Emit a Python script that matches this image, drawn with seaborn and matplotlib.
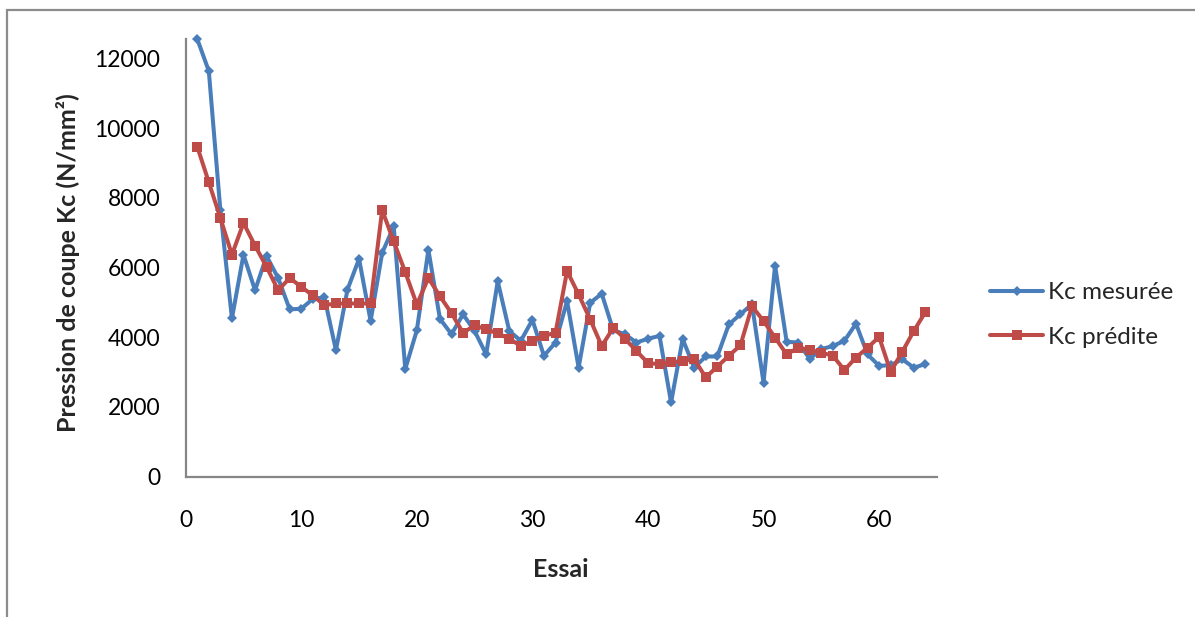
import matplotlib
matplotlib.use("Agg")
import matplotlib.pyplot as plt
import matplotlib.patches as mpatches
import numpy as np
import pandas as pd
import seaborn as sns

# Trial numbers and cutting pressure values (N/mm²)
essai = list(range(1, 65))
kc_mesuree = [
    12560, 11640, 7640, 4540, 6370, 5350, 6330, 5700, 4800, 4820,
    5100, 5150, 3630, 5370, 6250, 4470, 6420, 7180, 3090, 4200,
    6510, 4530, 4090, 4660, 4180, 3510, 5610, 4180, 3900, 4500,
    3470, 3850, 5040, 3130, 4990, 5250, 4200, 4090, 3850, 3960,
    4040, 2130, 3950, 3130, 3450, 3450, 4370, 4660, 4950, 2700,
    6060, 3870, 3850, 3380, 3660, 3750, 3900, 4390, 3510, 3180,
    3200, 3370, 3130, 3230,
]
kc_predite = [
    9470, 8450, 7420, 6370, 7280, 6630, 6020, 5350, 5700, 5450,
    5200, 4920, 4970, 4970, 4970, 4970, 7650, 6750, 5870, 4940,
    5700, 5180, 4690, 4130, 4340, 4230, 4110, 3960, 3750, 3900,
    4040, 4130, 5900, 5230, 4510, 3750, 4270, 3960, 3610, 3260,
    3230, 3280, 3320, 3370, 2850, 3160, 3470, 3770, 4890, 4470,
    3990, 3510, 3700, 3640, 3560, 3470, 3060, 3420, 3700, 4010,
    3010, 3580, 4180, 4720,
]
series_names = ["Kc mesurée", "Kc prédite"]
x_ticks = [0, 10, 20, 30, 40, 50, 60]
y_ticks = [0, 2000, 4000, 6000, 8000, 10000, 12000]

df = pd.DataFrame({
    "Essai": essai * 2,
    "Kc": kc_mesuree + kc_predite,
    "Série": [series_names[0]] * len(essai) + [series_names[1]] * len(essai),
})

sns.set_theme(style="white")
plt.rcParams["font.family"] = ["Lato", "DejaVu Sans"]

palette = {series_names[0]: "#4A7EBB", series_names[1]: "#BE4B48"}
markers = {series_names[0]: "D", series_names[1]: "s"}
marker_sizes = [5.0, 6.5]

fig = plt.figure(figsize=(11.95, 6.17), dpi=100)
ax = fig.add_axes([0.1554, 0.2274, 0.784 - 0.1554, 0.9368 - 0.2274])

sns.lineplot(
    data=df, x="Essai", y="Kc", hue="Série", style="Série",
    palette=palette, markers=markers, dashes=False,
    linewidth=2.9, markeredgewidth=0, ax=ax, legend=False,
)
for line, ms in zip(ax.get_lines(), marker_sizes):
    line.set_markersize(ms)
    line.set_clip_on(False)

ax.set_xlim(0, 65)
ax.set_ylim(0, 12560)
ax.set_xticks(x_ticks)
ax.set_yticks(y_ticks)
ax.tick_params(axis="both", length=0, labelsize=16.5, colors="black")
ax.tick_params(axis="y", pad=18.5)
ax.tick_params(axis="x", pad=24)

for side in ["top", "right"]:
    ax.spines[side].set_visible(False)
for side in ["left", "bottom"]:
    ax.spines[side].set_color("#868686")
    ax.spines[side].set_linewidth(1.6)

ax.set_xlabel("Essai", fontsize=18, fontweight="bold")
ax.set_ylabel("Pression de coupe Kc (N/mm²)", fontsize=18, fontweight="bold")
ax.xaxis.set_label_coords(0.4997, -0.185)
ax.yaxis.set_label_coords(-0.1407, 0.49)

# legend on the right
handles = [
    plt.Line2D([], [], color=palette[n], marker=markers[n], linewidth=2.9,
               markersize=ms, markeredgewidth=0)
    for n, ms in zip(series_names, marker_sizes)
]
fig.legend(
    handles, series_names, loc="center left",
    bbox_to_anchor=(990 / 1195, 1 - 315 / 617), frameon=False, fontsize=17.5,
    handlelength=2.2, handletextpad=0.2, labelspacing=0.97,
    borderpad=0, borderaxespad=0,
)

# outer chart frame
fig.patches.append(mpatches.Rectangle(
    (7 / 1195, -0.05), 1.2, 1 - 10 / 617 + 0.05,
    transform=fig.transFigure, fill=False, edgecolor="#8c8c8c", linewidth=1.6,
))

fig.savefig("out.png", dpi=100)
